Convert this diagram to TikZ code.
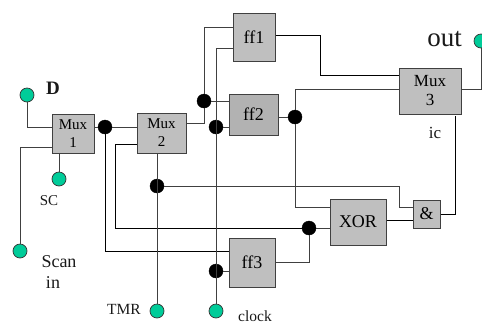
\documentclass[tikz,border=0pt]{standalone}
\usepackage{fontspec}
\setmainfont{Liberation Serif}
\newcommand{\fs}[1]{\fontsize{#1}{#1}\selectfont}
\tikzset{
  x=1pt,y=-1pt,
  blk/.style={draw=black!75,line width=1pt,fill=#1,inner sep=0pt,align=center},
  blk/.default={black!25},
  dot/.style={circle,fill=black,draw=black,inner sep=0pt,minimum size=14pt},
  pin/.style={circle,fill=pinc,draw=black!80,line width=0.7pt,inner sep=0pt,minimum size=14pt},
  wire/.style={draw=black!75,line width=1pt},
  bwire/.style={draw=black,line width=0.9pt},
  lab/.style={inner sep=0pt,text=black!90}
}
\definecolor{pinc}{HTML}{00CC99}
\begin{document}
\begin{tikzpicture}
\useasboundingbox (0,0) rectangle (482,325);
\clip (0,0) rectangle (482,325);
% blocks
\node[blk,minimum width=42pt,minimum height=39pt,font=\fs{15}] (mux1) at (73,133.5) {Mux\\[3pt]1};
\node[blk,minimum width=49pt,minimum height=40pt,font=\fs{15}] (mux2) at (161.5,133) {Mux\\[3pt]2};
\node[blk,minimum width=42pt,minimum height=48pt,font=\fs{18}] (ff1) at (254,37) {ff1};
\node[blk=black!30,minimum width=49pt,minimum height=41pt,font=\fs{18}] (ff2) at (253.5,114.5) {ff2};
\node[blk,minimum width=46pt,minimum height=49pt,font=\fs{18}] (ff3) at (252,262.5) {ff3};
\node[blk,minimum width=62pt,minimum height=46pt,font=\fs{17}] (mux3) at (430,91) {Mux\\[2pt]3};
\node[blk,minimum width=56pt,minimum height=46pt,font=\fs{18}] (xor) at (358,222) {XOR};
\node[blk,minimum width=27pt,minimum height=28pt,font=\fs{18}] (and) at (426.5,214) {\&};
% junctions
\node[dot] (j1) at (105,127) {};
\node[dot] (j2) at (204,101) {};
\node[dot] (j3) at (216,127) {};
\node[dot] (j4) at (157,186) {};
\node[dot] (j5) at (216,271) {};
\node[dot] (j6) at (295,117) {};
\node[dot] (j7) at (309,228) {};
% pins
\node[pin] (d) at (27,95) {};
\node[pin] (sc) at (59,179) {};
\node[pin] (scan) at (20,251) {};
\node[pin] (tmr) at (157,311) {};
\node[pin] (clk) at (216,311) {};
\node[pin] (out) at (481,41) {};
% connectors
\draw[wire] (d) |- (mux1.west |- 0,127);
\draw[wire] (scan) |- (mux1.west |- 0,147);
\draw[wire] (sc) -- (mux1.south -| sc);
\draw[wire] (mux1.east |- j1) -- (j1);
\draw[wire] (j1) -- (mux2.west |- j1);
\draw[bwire] (j1) |- (ff3.west |- 0,251);
\draw[wire] (mux2.east |- 0,123) -| (j2);
\draw[wire] (j2) |- (ff1.west |- 0,27);
\draw[wire] (j2) -- (ff2.west |- j2);
\draw[bwire] (mux2.west |- 0,144) -| (115,228) -- (j7);
\draw[wire] (mux2.south -| tmr) -- (tmr);
\draw[wire] (j4) -| (399,207) -- (and.west |- 0,207);
\draw[wire] (clk) |- (ff1.west |- 0,48);
\draw[wire] (j3) -- (ff2.west |- j3);
\draw[wire] (j5) -- (ff3.west |- j5);
\draw[bwire] (ff1.east |- 0,35) -| (320,75) -- (mux3.west |- 0,75);
\draw[wire] (ff2.east |- j6) -- (j6);
\draw[wire] (j6) |- (mux3.west |- 0,89);
\draw[wire] (j6) |- (xor.west |- 0,207);
\draw[wire] (ff3.east |- 0,262) -| (j7);
\draw[wire] (j7) -- (xor.west |- j7);
\draw[bwire] (xor.east |- 0,220.5) -- (and.west |- 0,220.5);
\draw[bwire] (and.east |- 0,214) -| (455,116);
\draw[wire] (mux3.east |- 0,89) -| (out);
% labels
\node[lab,font=\fs{19}\bfseries] (ld) at (53,88) {D};
\node[lab,font=\fs{15}] (lsc) at (49,201) {SC};
\node[lab,font=\fs{18}] (ls) at (59,262) {Scan};
\node[lab,font=\fs{18}] (li) at (53,283) {in};
\node[lab,font=\fs{15.5}] (lt) at (124,309) {TMR};
\node[lab,font=\fs{15.5}] (lc) at (255,316.5) {clock};
\node[lab,font=\fs{27}] (lo) at (444.5,39) {out};
\node[lab,font=\fs{17}] (lic) at (435,133) {ic};
\end{tikzpicture}
\end{document}
